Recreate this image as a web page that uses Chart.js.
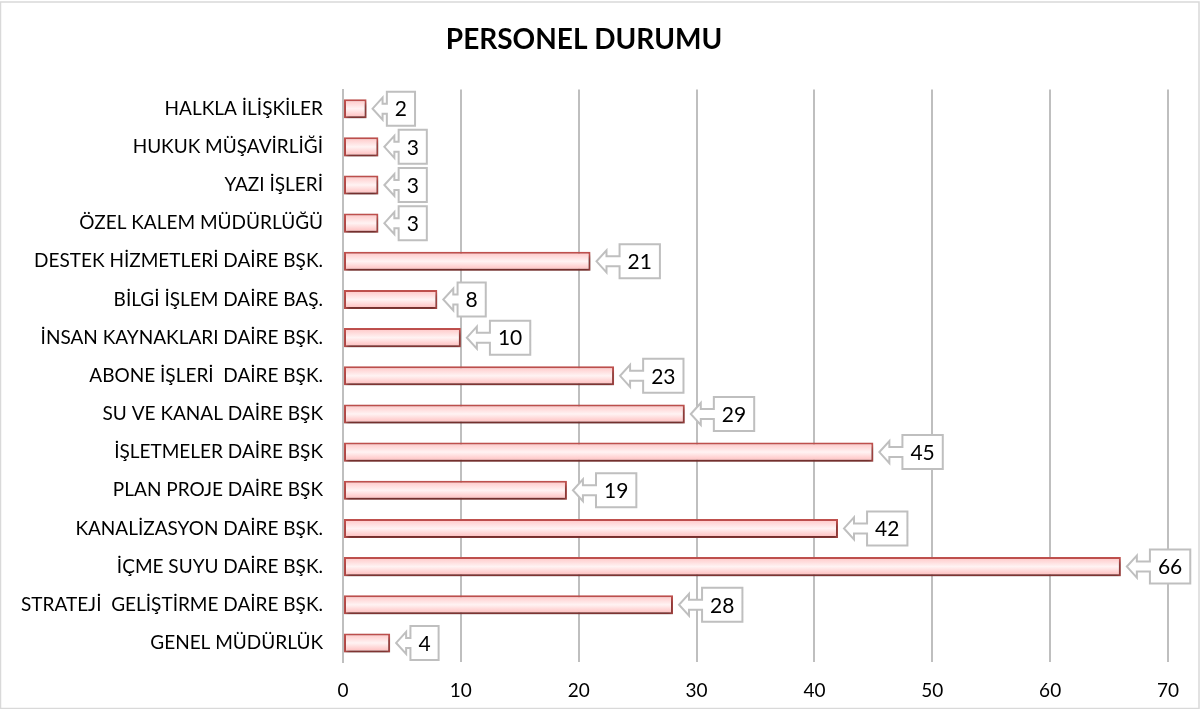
<!DOCTYPE html>
<html>
<head>
<meta charset="utf-8">
<script src="https://cdn.jsdelivr.net/npm/chart.js@4"></script>
<style>
  html, body { margin: 0; padding: 0; background: #fff; }
  #wrap { width: 1200px; height: 709px; position: relative; }
</style>
</head>
<body>
<div id="wrap"><canvas id="personel" width="1200" height="709"></canvas></div>
<script>
// birimler ve personel sayilari (ustten alta)
var birimler = [
    'HALKLA İLİŞKİLER',
    'HUKUK MÜŞAVİRLİĞİ',
    'YAZI İŞLERİ',
    'ÖZEL KALEM MÜDÜRLÜĞÜ',
    'DESTEK HİZMETLERİ DAİRE BŞK.',
    'BİLGİ İŞLEM DAİRE BAŞ.',
    'İNSAN KAYNAKLARI DAİRE BŞK.',
    'ABONE İŞLERİ  DAİRE BŞK.',
    'SU VE KANAL DAİRE BŞK',
    'İŞLETMELER DAİRE BŞK',
    'PLAN PROJE DAİRE BŞK',
    'KANALİZASYON DAİRE BŞK.',
    'İÇME SUYU DAİRE BŞK.',
    'STRATEJİ  GELİŞTİRME DAİRE BŞK.',
    'GENEL MÜDÜRLÜK'
];
var personel = [2, 3, 3, 3, 21, 8, 10, 23, 29, 45, 19, 42, 66, 28, 4];
var xMin = 0;
var xMax = 70;
var xStep = 10;
var baslik = 'PERSONEL DURUMU';

var fontAdi = 'Lato, "Open Sans", sans-serif';

// cerceve cizimi
var cerceve = {
    id: 'cerceve',
    beforeDraw: function(chart) {
        var ctx = chart.ctx;
        ctx.save();
        ctx.fillStyle = '#ffffff';
        ctx.fillRect(0, 0, chart.width, chart.height);
        ctx.strokeStyle = '#d9d9d9';
        ctx.lineWidth = 1.5;
        ctx.strokeRect(0.5, 2, chart.width - 1.5, chart.height - 2.5);
        ctx.restore();
    }
};

// bar golgesi
var golge = {
    id: 'golge',
    beforeDatasetsDraw: function(chart) {
        var ctx = chart.ctx;
        ctx.save();
        ctx.shadowColor = 'rgba(0,0,0,0.45)';
        ctx.shadowBlur = 4;
        ctx.shadowOffsetX = 1;
        ctx.shadowOffsetY = 3;
    },
    afterDatasetsDraw: function(chart) {
        chart.ctx.restore();
    }
};

// ok seklindeki etiketler
var etiketler = {
    id: 'etiketler',
    afterDatasetsDraw: function(chart) {
        var ctx = chart.ctx;
        var meta = chart.getDatasetMeta(0);
        ctx.save();
        ctx.shadowColor = 'transparent';
        ctx.font = '21px ' + fontAdi;
        meta.data.forEach(function(bar, i) {
            var txt = String(personel[i]);
            var tw = ctx.measureText(txt).width;
            var w = tw + 16;
            var h = 34;
            var xEnd = bar.x;
            var yc = bar.y;
            var tip = xEnd + 6;
            var left = xEnd + 0.72 * w;
            var headBack = tip + 10;
            var top = yc - h / 2;

            ctx.beginPath();
            ctx.moveTo(left, top);
            ctx.lineTo(left + w, top);
            ctx.lineTo(left + w, top + h);
            ctx.lineTo(left, top + h);
            ctx.lineTo(left, yc + 5);
            ctx.lineTo(headBack, yc + 5);
            ctx.lineTo(headBack, yc + 11);
            ctx.lineTo(tip, yc);
            ctx.lineTo(headBack, yc - 11);
            ctx.lineTo(headBack, yc - 5);
            ctx.lineTo(left, yc - 5);
            ctx.closePath();
            ctx.fillStyle = '#ffffff';
            ctx.fill();
            ctx.strokeStyle = '#bfbfbf';
            ctx.lineWidth = 2;
            ctx.stroke();

            ctx.fillStyle = '#000000';
            ctx.textAlign = 'center';
            ctx.textBaseline = 'middle';
            ctx.fillText(txt, left + w / 2, yc + 1);
        });
        ctx.restore();
    }
};

var ctx = document.getElementById('personel').getContext('2d');

function barDolgu(context) {
    var chart = context.chart;
    var yScale = chart.scales.y;
    if (!chart.chartArea || !yScale || context.dataIndex === undefined) return '#ffd6d6';
    var yc = yScale.getPixelForValue(context.dataIndex);
    var h = 19;
    var g = chart.ctx.createLinearGradient(0, yc - h / 2, 0, yc + h / 2);
    g.addColorStop(0, '#ffc4c4');
    g.addColorStop(0.5, '#fff3f3');
    g.addColorStop(1, '#ffb8b8');
    return g;
}

var chart = new Chart(ctx, {
    type: 'bar',
    data: {
        labels: birimler,
        datasets: [{
            data: personel,
            backgroundColor: barDolgu,
            borderColor: '#c0504d',
            borderWidth: 2,
            borderSkipped: false,
            barPercentage: 0.5,
            categoryPercentage: 1.0
        }]
    },
    options: {
        indexAxis: 'y',
        responsive: false,
        animation: false,
        devicePixelRatio: 1,
        layout: {
            padding: { left: 0, right: 32, top: 0, bottom: 0 }
        },
        plugins: {
            legend: { display: false },
            tooltip: { enabled: false },
            title: {
                display: true,
                text: baslik,
                color: '#000000',
                font: { family: fontAdi, size: 28, weight: 'bold' },
                padding: { top: 23, bottom: 33 }
            }
        },
        scales: {
            x: {
                min: xMin,
                max: xMax,
                ticks: {
                    stepSize: xStep,
                    color: '#000000',
                    padding: 17,
                    font: { family: fontAdi, size: 19 }
                },
                grid: {
                    color: '#bfbfbf',
                    lineWidth: 2,
                    drawTicks: false
                },
                border: { display: false },
                afterFit: function(scale) { scale.height = 47; }
            },
            y: {
                ticks: {
                    color: '#000000',
                    padding: 20,
                    font: { family: fontAdi, size: 19 }
                },
                grid: { display: false, drawTicks: false },
                border: { display: true, color: '#bfbfbf', width: 2 },
                afterFit: function(scale) { scale.width = 343; }
            }
        }
    },
    plugins: [cerceve, golge, etiketler]
});
chart.update();
</script>
</body>
</html>
